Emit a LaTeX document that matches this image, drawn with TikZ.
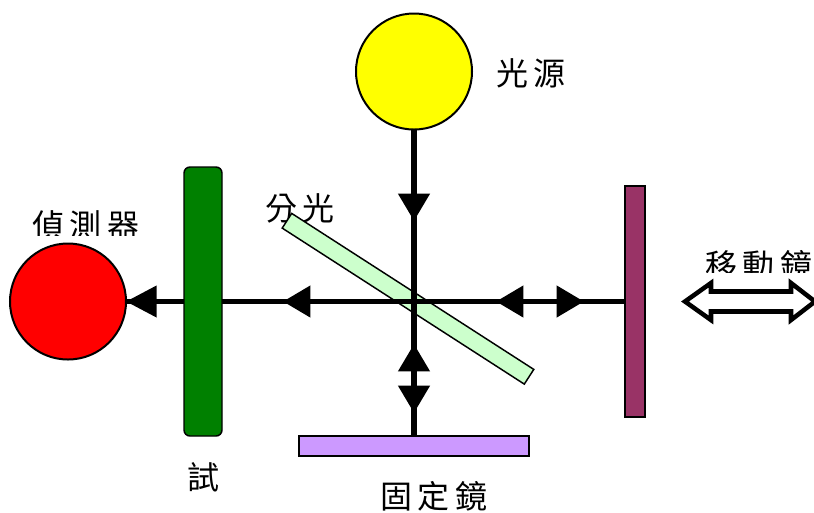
\documentclass[tikz,border=0pt]{standalone}
\usepackage{fontspec}
\usetikzlibrary{arrows.meta}
\newfontfamily\cjk[LetterSpace=17]{Noto Sans CJK TC}
\definecolor{mirrorviolet}{HTML}{CC99FF}
\definecolor{mirrormaroon}{HTML}{993366}
\definecolor{samplegreen}{HTML}{008000}
\definecolor{splitgreen}{HTML}{CCFFCC}
\definecolor{sourceyellow}{HTML}{FFFF00}
\definecolor{detectorred}{HTML}{FF0000}
\def\u{0.75pt}
\tikzset{
  x=0.75pt,y=-0.75pt,
  part/.style={draw=black,inner sep=0pt,outer sep=0pt},
  disc/.style={part,circle,line width=1.5pt,minimum size=116*\u},
  mirror/.style={part,rectangle,line width=2.1pt},
  ray/.style={line width=4pt,black},
  rayhead/.style={ray,-{Triangle[length=20.5pt,width=23pt,sep=0pt]}},
  bigrayhead/.style={ray,-{Triangle[length=23pt,width=23pt,sep=0pt]}},
  lbl/.style={inner sep=0pt,font=\cjk\fontsize{24}{24}\selectfont,text=black},
}
\begin{document}
\begin{tikzpicture}
\useasboundingbox (0,0) rectangle (814,512);
% labels
\node[lbl] (srclabel) at (531,73) {光源};
\node[lbl] (splitlabel) at (300,208) {分光};
\node[lbl] (samplelabel) at (203,477) {試};
\node[lbl] (fixedlabel) at (434,496) {固定鏡};
\begin{scope}
  \clip (0,180) rectangle (180,235);
  \node[lbl] (detlabel) at (86,225) {偵測器};
\end{scope}
\begin{scope}
  \clip (690,240) rectangle (811,272);
  \node[lbl] (movlabel) at (759,265) {移動鏡};
\end{scope}
% optics
\node[part,rectangle,line width=1.1pt,fill=splitgreen,minimum width=288*\u,minimum height=17.5*\u,rotate=-32.8] (split) at (408,298.75) {};
\node[disc,fill=sourceyellow] (source) at (414,71.5) {};
\node[disc,fill=detectorred] (detector) at (68,301.5) {};
\node[mirror,fill=mirrorviolet,minimum width=230*\u,minimum height=20*\u] (fixed) at (414,446) {};
% ray waypoints
\coordinate (downtip) at (414,221);
\coordinate (downtail) at (414,194);
\coordinate (uptip) at (414,344);
\coordinate (uptail) at (414,371);
\coordinate (lowtip) at (414,413);
\coordinate (lowtail) at (414,386);
\coordinate (lefttip) at (283,301.5);
\coordinate (lefttail) at (310.5,301.5);
\coordinate (midtip) at (496,301.5);
\coordinate (midtail) at (523,301.5);
\coordinate (righttip) at (584,301.5);
\coordinate (righttail) at (557,301.5);
\coordinate (dettail) at (157,301.5);
% rays
\node[mirror,fill=mirrormaroon,minimum width=20*\u,minimum height=231*\u] (movable) at (635,301.5) {};
\draw[ray] (source.south) -- (fixed.north);
\draw[ray] (movable.west) -- (detector.east);
\draw[rayhead] (downtail) -- (downtip);
\draw[rayhead] (uptail) -- (uptip);
\draw[rayhead] (lowtail) -- (lowtip);
\draw[rayhead] (righttail) -- (righttip);
\draw[rayhead] (midtail) -- (midtip);
\draw[rayhead] (lefttail) -- (lefttip);
\draw[bigrayhead] (dettail) -- (detector.east);
% sample
\node[part,rectangle,rounded corners=4.5pt,line width=1.1pt,fill=samplegreen,minimum width=38*\u,minimum height=269*\u] (sample) at (203,301.5) {};
% movement arrow
\draw[line width=3.4pt,miter limit=10,fill=white] (685,301.5) -- (711,283) -- (711,291.5) -- (791,291.5) -- (791,283) -- (815,301.5) -- (791,320) -- (791,311.5) -- (711,311.5) -- (711,320) -- cycle;
\end{tikzpicture}
\end{document}
